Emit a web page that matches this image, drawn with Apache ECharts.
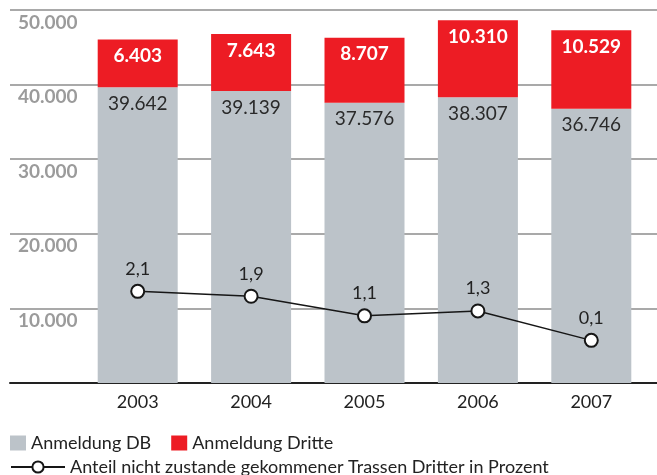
<!DOCTYPE html>
<html>
<head>
<meta charset="utf-8">
<script src="https://cdn.jsdelivr.net/npm/echarts@6/dist/echarts.min.js"></script>
<style>
  html, body { margin: 0; padding: 0; background: #fff; }
  #chart { width: 657px; height: 475px; }
</style>
</head>
<body>
<div id="chart"></div>
<script>
// Daten
const years = ["2003", "2004", "2005", "2006", "2007"];
const anmeldungDB = [39642, 39139, 37576, 38307, 36746];
const anmeldungDritte = [6403, 7643, 8707, 10310, 10529];
const anteilNichtZustande = [2.1, 1.9, 1.1, 1.3, 0.1];
const yTicks = [0, 10000, 20000, 30000, 40000, 50000];

const nameDB = "Anmeldung DB";
const nameDritte = "Anmeldung Dritte";
const nameAnteil = "Anteil nicht zustande gekommener Trassen Dritter in Prozent";

// 39642 -> "39.642"
const fmtThousands = (v) => String(v).replace(/\B(?=(\d{3})+(?!\d))/g, ".");

const font = "Lato, 'Noto Sans', sans-serif";
const chart = echarts.init(document.getElementById("chart"));

const option = {
  animation: false,
  textStyle: { fontFamily: font },
  grid: [
    // Balken
    { left: 81, right: 9, top: 10, bottom: 92 },
    // Hintergrund: Gitterlinien und Achsenbeschriftung über die volle Breite
    { left: 10, right: 0, top: 10, bottom: 92 },
  ],
  legend: [
    {
      data: [nameDB, nameDritte],
      icon: "rect",
      left: 5,
      top: 429,
      itemWidth: 16,
      itemHeight: 15,
      itemGap: 20,
      itemStyle: { borderWidth: 0 },
      textStyle: { fontFamily: font, fontSize: 18, color: "#222" },
    },
    {
      data: [nameAnteil],
      left: 5,
      top: 453,
      itemWidth: 54,
      itemHeight: 14,
      textStyle: { fontFamily: font, fontSize: 18, color: "#222" },
    },
  ],
  xAxis: [
    {
      type: "category",
      gridIndex: 0,
      data: years,
      axisLine: { show: false },
      axisTick: { show: false },
      axisLabel: { fontFamily: font, fontSize: 18, color: "#222", margin: 10 },
    },
    {
      type: "value",
      gridIndex: 1,
      min: 0,
      max: 1,
      axisLine: { show: true, lineStyle: { color: "#222", width: 2 } },
      axisTick: { show: false },
      axisLabel: { show: false },
      splitLine: { show: false },
    },
  ],
  yAxis: [
    {
      type: "value",
      gridIndex: 0,
      min: yTicks[0],
      max: yTicks[yTicks.length - 1],
      show: false,
    },
    {
      type: "value",
      gridIndex: 0,
      min: -1.64,
      max: 13.58,
      show: false,
    },
    {
      type: "value",
      gridIndex: 1,
      min: yTicks[0],
      max: yTicks[yTicks.length - 1],
      interval: yTicks[1] - yTicks[0],
      axisLine: { show: false },
      axisTick: { show: false },
      splitLine: { show: true, lineStyle: { color: "#a9a9a9", width: 2 } },
      axisLabel: {
        inside: true,
        align: "left",
        verticalAlign: "top",
        padding: [3, 0, 0, 0],
        fontFamily: font,
        fontSize: 19,
        fontWeight: "bold",
        color: "#9b9b9b",
        formatter: (v) => (v === 0 ? "" : fmtThousands(v)),
      },
    },
  ],
  series: [
    {
      name: nameDB,
      type: "bar",
      stack: "anmeldung",
      xAxisIndex: 0,
      yAxisIndex: 0,
      barWidth: 80,
      itemStyle: { color: "#bcc3c9" },
      label: {
        show: true,
        position: "insideTop",
        distance: 7,
        fontFamily: font,
        fontSize: 19,
        color: "#2a2a2a",
        formatter: (p) => fmtThousands(p.value),
      },
      data: anmeldungDB,
    },
    {
      name: nameDritte,
      type: "bar",
      stack: "anmeldung",
      xAxisIndex: 0,
      yAxisIndex: 0,
      barWidth: 80,
      itemStyle: { color: "#ed1c24" },
      label: {
        show: true,
        position: "insideTop",
        distance: 7,
        fontFamily: font,
        fontSize: 19,
        fontWeight: "bold",
        color: "#fff",
        formatter: (p) => fmtThousands(p.value),
      },
      data: anmeldungDritte,
    },
    {
      name: nameAnteil,
      type: "line",
      xAxisIndex: 0,
      yAxisIndex: 1,
      symbol: "circle",
      symbolSize: 13,
      z: 5,
      lineStyle: { color: "#161616", width: 1.5 },
      itemStyle: { color: "#fff", borderColor: "#161616", borderWidth: 2 },
      label: {
        show: true,
        position: "top",
        distance: 6,
        fontFamily: font,
        fontSize: 18,
        color: "#222",
        formatter: (p) => String(p.value).replace(".", ","),
      },
      data: anteilNichtZustande,
    },
  ],
};

chart.setOption(option);
</script>
</body>
</html>
